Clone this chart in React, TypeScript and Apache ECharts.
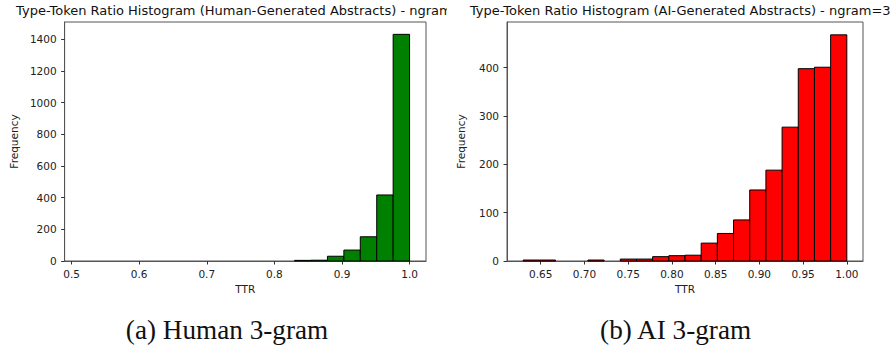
import React, { useEffect, useRef } from "react";
import * as echarts from "echarts";

// Human-generated abstracts: 20 histogram bins
const humanCounts = [0, 0, 0, 0, 0, 0, 0, 0, 0, 0, 0, 0, 0, 4, 5, 30, 69, 153, 417, 1431];
const humanBinStart = 0.514;
const humanBinWidth = 0.0243;
const humanXTicks = [0.5, 0.6, 0.7, 0.8, 0.9, 1.0];
const humanYTicks = [0, 200, 400, 600, 800, 1000, 1200, 1400];

// AI-generated abstracts: 20 histogram bins
const aiCounts = [2, 2, 0, 0, 2, 0, 4, 4, 9, 11, 12, 37, 57, 85, 147, 188, 277, 398, 401, 468];
const aiBinStart = 0.63;
const aiBinWidth = 0.0185;
const aiXTicks = [0.65, 0.7, 0.75, 0.8, 0.85, 0.9, 0.95, 1.0];
const aiYTicks = [0, 100, 200, 300, 400];

const FONT = "DejaVu Sans";
const TXT = "#222";

function buildOption(p: {
  title: string;
  caption: string;
  captionX: number;
  counts: number[];
  binStart: number;
  binWidth: number;
  xTicks: number[];
  yTicks: number[];
  xDigits: number;
  xMin: number;
  xMax: number;
  yMax: number;
  gridLeft: number;
  gridWidth: number;
  color: string;
}) {
  const data = p.counts.map((c, i) => [
    p.binStart + i * p.binWidth,
    p.binStart + (i + 1) * p.binWidth,
    c,
  ]);
  const gridTop = 22;
  const gridHeight = 239;
  return {
    animation: false,
    backgroundColor: "#fff",
    title: {
      text: p.title,
      left: p.gridLeft + p.gridWidth / 2,
      top: 4,
      textAlign: "center",
      padding: 0,
      textStyle: { fontFamily: FONT, fontSize: 13, fontWeight: "normal", color: "#111" },
    },
    graphic: [
      {
        type: "text",
        x: p.captionX,
        y: 330,
        style: {
          text: p.caption,
          fontFamily: "Liberation Serif",
          fontSize: 27.2,
          fill: "#111",
          align: "center",
          verticalAlign: "middle",
        },
      },
    ],
    grid: {
      left: p.gridLeft,
      top: gridTop,
      width: p.gridWidth,
      height: gridHeight,
      show: true,
      borderColor: "#555",
      borderWidth: 1,
      backgroundColor: "transparent",
    },
    xAxis: {
      type: "value",
      min: p.xMin,
      max: p.xMax,
      name: "TTR",
      nameLocation: "middle",
      nameGap: 22,
      nameTextStyle: { fontFamily: FONT, fontSize: 10.5, color: TXT },
      axisLine: { show: true, lineStyle: { color: "#555", width: 1 } },
      axisTick: { show: true, length: 3.5, customValues: p.xTicks, lineStyle: { color: "#333" } },
      axisLabel: {
        customValues: p.xTicks,
        margin: 7,
        fontFamily: FONT,
        fontSize: 10.5,
        color: TXT,
        formatter: (v: number) => v.toFixed(p.xDigits),
      },
      splitLine: { show: false },
    },
    yAxis: {
      type: "value",
      min: 0,
      max: p.yMax,
      name: "Frequency",
      nameLocation: "middle",
      nameRotate: 90,
      nameGap: 41,
      nameTextStyle: { fontFamily: FONT, fontSize: 10.5, color: TXT },
      axisLine: { show: true, lineStyle: { color: "#555", width: 1 } },
      axisTick: { show: true, length: 3.5, customValues: p.yTicks, lineStyle: { color: "#333" } },
      axisLabel: {
        customValues: p.yTicks,
        margin: 8,
        fontFamily: FONT,
        fontSize: 10.5,
        color: TXT,
        formatter: (v: number) => String(Math.round(v)),
      },
      splitLine: { show: false },
    },
    series: [
      {
        type: "custom",
        data,
        encode: { x: [0, 1], y: 2 },
        renderItem: (params: any, api: any) => {
          const x0 = api.value(0);
          const x1 = api.value(1);
          const y = api.value(2);
          if (!y) return null;
          const a = api.coord([x0, y]);
          const b = api.coord([x1, 0]);
          return {
            type: "rect",
            shape: { x: a[0], y: a[1], width: b[0] - a[0], height: b[1] - a[1] },
            style: { fill: p.color, stroke: "#000", lineWidth: 1 },
          };
        },
      },
    ],
  };
}

function Panel({ option, width, left }: { option: any; width: number; left: number }) {
  const ref = useRef<HTMLDivElement>(null);
  useEffect(() => {
    if (!ref.current) return;
    const chart = echarts.init(ref.current, undefined, { renderer: "svg" });
    chart.setOption(option);
    return () => chart.dispose();
  }, [option]);
  return (
    <div
      ref={ref}
      style={{ position: "absolute", left, top: 0, width, height: 351, overflow: "hidden" }}
    />
  );
}

const leftOption = buildOption({
  title: "Type-Token Ratio Histogram (Human-Generated Abstracts) - ngram=3",
  caption: "(a) Human 3-gram",
  captionX: 227,
  counts: humanCounts,
  binStart: humanBinStart,
  binWidth: humanBinWidth,
  xTicks: humanXTicks,
  yTicks: humanYTicks,
  xDigits: 1,
  xMin: 0.4897,
  xMax: 1.0243,
  yMax: 1509,
  gridLeft: 61,
  gridWidth: 365,
  color: "#008000",
});

const rightOption = buildOption({
  title: "Type-Token Ratio Histogram (AI-Generated Abstracts) - ngram=3",
  caption: "(b) AI 3-gram",
  captionX: 228.6,
  counts: aiCounts,
  binStart: aiBinStart,
  binWidth: aiBinWidth,
  xTicks: aiXTicks,
  yTicks: aiYTicks,
  xDigits: 2,
  xMin: 0.6115,
  xMax: 1.0185,
  yMax: 494.6,
  gridLeft: 50.5,
  gridWidth: 365.5,
  color: "#ff0000",
});

export default function App() {
  return (
    <div
      style={{
        position: "fixed",
        left: 0,
        top: 0,
        width: 895,
        height: 351,
        background: "#fff",
        overflow: "hidden",
      }}
    >
      <Panel option={leftOption} width={447} left={0} />
      <Panel option={rightOption} width={448} left={447} />
    </div>
  );
}
